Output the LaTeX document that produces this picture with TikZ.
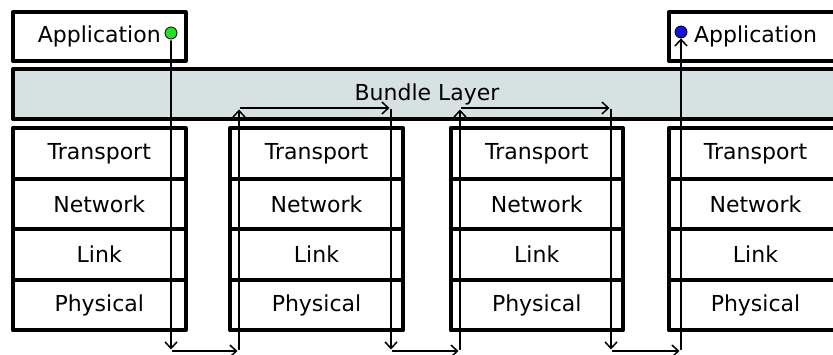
\documentclass[tikz,border=0pt]{standalone}
\usepackage{fontspec}
\setmainfont{DejaVu Sans}
\usetikzlibrary{arrows.meta}
\definecolor{bundlefill}{RGB}{214,226,226}
\definecolor{srcgreen}{RGB}{40,220,40}
\definecolor{dstblue}{RGB}{20,20,220}
\tikzset{
  layerbox/.style={draw,line width=4pt,minimum width=172.5pt,minimum height=50.6pt,inner sep=0pt,font=\fontsize{22}{26}\selectfont},
  hop/.style={line width=1.5pt,shorten >=1.5pt,shorten <=1.5pt,-{Straight Barb[length=6.5pt,width=12pt]}},
  enddot/.style={circle,draw=black,line width=0.8pt,minimum size=12pt,inner sep=0pt},
}
\begin{document}
\begin{tikzpicture}[line cap=round,line join=round,x=1pt,y=-1pt]
	\useasboundingbox (0,0) rectangle (833,355);
	% end nodes
	\node[layerbox,minimum height=49pt] (appL) at (99.25,36.5) {Application};
	\node[layerbox,minimum height=49pt] (appR) at (755.5,36.5) {Application};
	\node[layerbox,minimum width=828pt,minimum height=50pt,fill=bundlefill] (bundle) at (427,94) {\raisebox{-2pt}{Bundle Layer}};
	% protocol stacks
	\foreach \s/\x in {1/99.25,2/316.5,3/536.75,4/755.5} {
		\foreach \r/\y/\lname in {1/153.3/Transport,2/203.9/Network,3/254.5/Link,4/305.2/Physical}
			\node[layerbox] (s\s r\r) at (\x,\y) {\lname};
	}
	% path of the bundle
	\node[enddot,fill=srcgreen] (src) at (171,33) {};
	\node[enddot,fill=dstblue] (dst) at (681,32) {};
	\path (171,351) coordinate (b0)
		(239,351) coordinate (b1) (239,108) coordinate (t1)
		(391,108) coordinate (t2) (391,351) coordinate (b2)
		(460,351) coordinate (b3) (460,108) coordinate (t3)
		(611,108) coordinate (t4) (611,351) coordinate (b4)
		(681,351) coordinate (b5);
	\draw[hop] (src) -- (b0);
	\draw[hop] (b0) -- (b1);
	\draw[hop] (b1) -- (t1);
	\draw[hop] (t1) -- (t2);
	\draw[hop] (t2) -- (b2);
	\draw[hop] (b2) -- (b3);
	\draw[hop] (b3) -- (t3);
	\draw[hop] (t3) -- (t4);
	\draw[hop] (t4) -- (b4);
	\draw[hop] (b4) -- (b5);
	\draw[hop,shorten >=0pt] (b5) -- (dst);
\end{tikzpicture}
\end{document}
